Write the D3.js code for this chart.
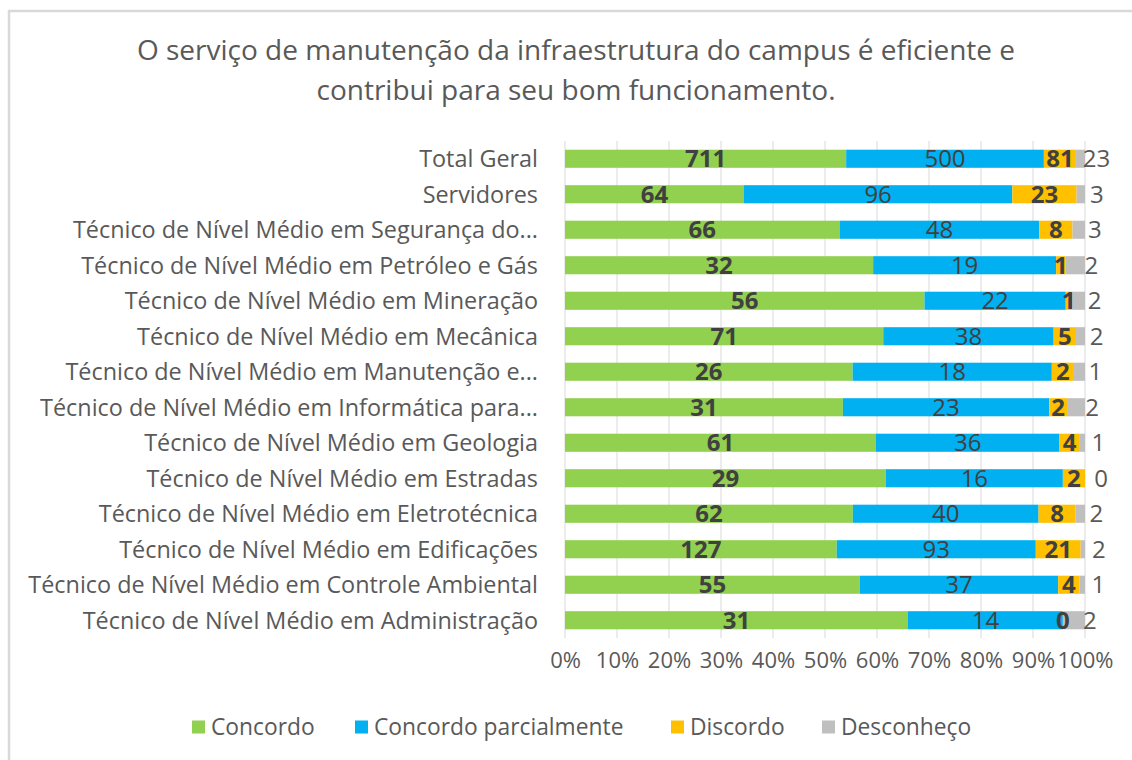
<!DOCTYPE html>
<meta charset="utf-8">
<style>
  body { margin: 0; background: #fff; }
  text { font-family: "Open Sans", sans-serif; fill: #595959; }
  .grid line { stroke: #d9d9d9; stroke-width: 1; }
  .cat { font-size: 23.4px; }
  .lbl { font-size: 24px; fill: #404040; }
</style>
<body>
<svg width="1132" height="760"></svg>
<script src="https://cdn.jsdelivr.net/npm/d3@7"></script>
<script>
  // categories, top to bottom
  let categories = [
    "Total Geral",
    "Servidores",
    "Técnico de Nível Médio em Segurança do...",
    "Técnico de Nível Médio em Petróleo e Gás",
    "Técnico de Nível Médio em Mineração",
    "Técnico de Nível Médio em Mecânica",
    "Técnico de Nível Médio em Manutenção e...",
    "Técnico de Nível Médio em Informática para...",
    "Técnico de Nível Médio em Geologia",
    "Técnico de Nível Médio em Estradas",
    "Técnico de Nível Médio em Eletrotécnica",
    "Técnico de Nível Médio em Edificações",
    "Técnico de Nível Médio em Controle Ambiental",
    "Técnico de Nível Médio em Administração"
  ];
  let concordo     = [711, 64, 66, 32, 56, 71, 26, 31, 61, 29, 62, 127, 55, 31];
  let parcialmente = [500, 96, 48, 19, 22, 38, 18, 23, 36, 16, 40, 93, 37, 14];
  let discordo     = [81, 23, 8, 1, 1, 5, 2, 2, 4, 2, 8, 21, 4, 0];
  let desconheco   = [23, 3, 3, 2, 2, 2, 1, 2, 1, 0, 2, 2, 1, 2];

  let seriesNames = ["Concordo", "Concordo parcialmente", "Discordo", "Desconheço"];
  let seriesColors = ["#92d050", "#00b0f0", "#ffc000", "#bfbfbf"];
  let tickValues = [0, .1, .2, .3, .4, .5, .6, .7, .8, .9, 1];

  var svg = d3.select("svg");

  // chart frame (only top and left edges fall inside the picture)
  svg.append("rect")
    .attr("x", 9).attr("y", 11)
    .attr("width", 1200).attr("height", 800)
    .attr("fill", "none")
    .attr("stroke", "#d9d9d9")
    .attr("stroke-width", 2.5);

  // title
  svg.append("text")
    .attr("x", 576).attr("y", 60)
    .attr("text-anchor", "middle")
    .style("font-size", "28px")
    .text("O serviço de manutenção da infraestrutura do campus é eficiente e");
  svg.append("text")
    .attr("x", 576).attr("y", 100)
    .attr("text-anchor", "middle")
    .style("font-size", "28px")
    .text("contribui para seu bom funcionamento.");

  var x = d3.scaleLinear().domain([0, 1]).range([565, 1085]);
  var y = d3.scaleBand().domain(categories).range([141, 638]).paddingInner(0.49).paddingOuter(0.245);

  // gridlines
  svg.append("g").attr("class", "grid")
    .selectAll("line")
    .data(tickValues)
    .enter().append("line")
      .attr("x1", d => x(d)).attr("x2", d => x(d))
      .attr("y1", 141).attr("y2", 638);

  // stacked data as shares of each row
  let rows = categories.map((c, i) => {
    let vals = [concordo[i], parcialmente[i], discordo[i], desconheco[i]];
    let total = d3.sum(vals);
    let acc = 0;
    return vals.map((v, k) => {
      let seg = { cat: c, k: k, v: v, x0: acc / total, x1: (acc + v) / total };
      acc += v;
      return seg;
    });
  });
  let segs = rows.flat();

  svg.append("g")
    .selectAll("rect")
    .data(segs)
    .enter().append("rect")
      .attr("x", d => x(d.x0))
      .attr("y", d => y(d.cat))
      .attr("width", d => x(d.x1) - x(d.x0))
      .attr("height", y.bandwidth())
      .attr("fill", d => seriesColors[d.k]);

  // data labels
  svg.append("g")
    .selectAll("text")
    .data(segs)
    .enter().append("text")
      .attr("class", "lbl")
      .attr("x", d => x((d.x0 + d.x1) / 2) + (d.k == 3 ? 16 : 0))
      .attr("y", d => y(d.cat) + y.bandwidth() / 2)
      .attr("dy", "0.36em")
      .attr("text-anchor", "middle")
      .style("font-weight", d => (d.k == 0 || d.k == 2) ? "bold" : "normal")
      .style("fill", d => d.k == 3 ? "#595959" : "#404040")
      .text(d => d.v);

  // category labels
  svg.append("g")
    .selectAll("text")
    .data(categories)
    .enter().append("text")
      .attr("class", "cat")
      .attr("x", 538)
      .attr("y", d => y(d) + y.bandwidth() / 2)
      .attr("dy", "0.36em")
      .attr("text-anchor", "end")
      .text(d => d);

  // x axis tick labels
  var xAxis = d3.axisBottom(x)
    .tickValues(tickValues)
    .tickFormat(d3.format(".0%"))
    .tickSize(0)
    .tickPadding(0);
  var ax = svg.append("g")
    .attr("transform", "translate(0,656)")
    .call(xAxis);
  ax.select(".domain").remove();
  ax.selectAll("text")
    .style("font-size", "22px")
    .style("font-family", "'Open Sans', sans-serif")
    .style("fill", "#595959")
    .attr("dy", "0.55em");

  // legend
  let legendX = [192, 355, 671, 822];
  var legend = svg.append("g")
    .selectAll("g")
    .data(seriesNames)
    .enter().append("g")
      .attr("transform", (d, i) => "translate(" + legendX[i] + ",727)");
  legend.append("rect")
    .attr("x", 0).attr("y", -6.5)
    .attr("width", 13).attr("height", 13)
    .attr("fill", (d, i) => seriesColors[i]);
  legend.append("text")
    .attr("x", 19)
    .attr("dy", "0.36em")
    .style("font-size", "22.8px")
    .text(d => d);
</script>
</body>
